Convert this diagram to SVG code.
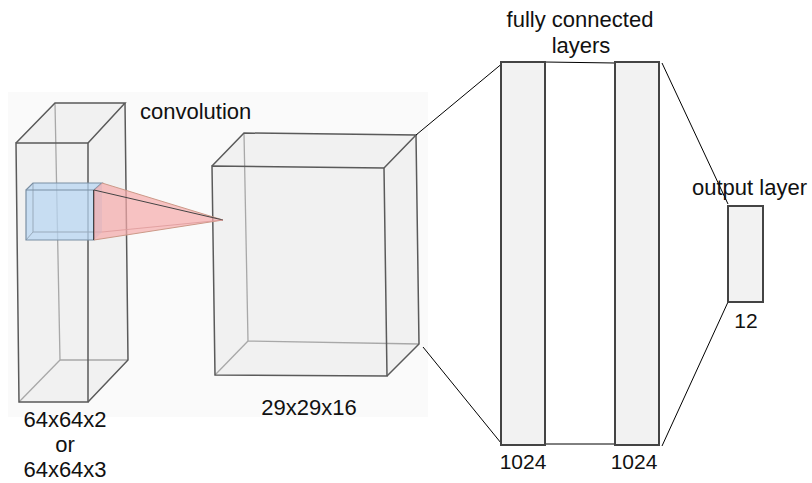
<svg xmlns="http://www.w3.org/2000/svg" width="812" height="483" viewBox="0 0 812 483">
<style>
text{font-family:"Liberation Sans",Arial,sans-serif;font-size:22px;fill:#111}
.mid{text-anchor:middle}
.face{fill:#ebebeb;fill-opacity:0.6;stroke:none}
.back{fill:none;stroke:#a8a8a8;stroke-width:1.3}
.edge{fill:none;stroke:#5a5a5a;stroke-width:1.5}
.layer{fill:#f2f2f2;stroke:#444;stroke-width:2}
.conn{stroke:#000;stroke-width:1;fill:none}
</style>
<rect x="8" y="92" width="420" height="325" fill="#fafafa"/>
<g id="input-volume">
<polygon class="face" points="16,143 55,103 125,103 128,360 88,402 19,402"/>
<polyline class="back" points="55,103 60,360 128,360"/>
<line class="back" x1="60" y1="360" x2="19" y2="402"/>
<polygon class="edge" points="16,143 88,143 88,402 19,402"/>
<polyline class="edge" points="16,143 55,103 125,103 88,143"/>
<polyline class="edge" points="125,103 128,360 88,402"/>
</g>
<g id="middle-volume">
<polygon class="face" points="212,166 244,133 416,135 419,344 387,376 215,375"/>
<polyline class="back" points="244,133 248,341 419,344"/>
<line class="back" x1="248" y1="341" x2="215" y2="375"/>
<polygon class="edge" points="212,166 384,168 387,376 215,375"/>
<polyline class="edge" points="212,166 244,133 416,135 384,168"/>
<polyline class="edge" points="416,135 419,344 387,376"/>
</g>
<g id="kernel">
<polygon points="26,190 33,183 102,183 102,232 94,240 26,240" fill="#b8d6f2" fill-opacity="0.75" stroke="none"/>
<polyline points="33,183 33,232 102,232" fill="none" stroke="#9ab" stroke-width="1"/>
<line x1="33" y1="232" x2="26" y2="240" stroke="#9ab" stroke-width="1"/>
<polygon points="26,190 94,190 94,240 26,240" fill="none" stroke="#7a8fa3" stroke-width="1.2"/>
<polyline points="26,190 33,183 102,183 94,190" fill="none" stroke="#7a8fa3" stroke-width="1.2"/>
<line x1="94" y1="190" x2="94" y2="240" stroke="#222" stroke-width="1.5"/>
<polygon points="94,190 102,183 223,220 94,240" fill="#f5a9a9" fill-opacity="0.7" stroke="none"/>
<polyline points="102,183 223,220 94,240" fill="none" stroke="#c98" stroke-width="1"/>
<line x1="94" y1="190" x2="223" y2="220" stroke="#444" stroke-width="1"/>
<line x1="102" y1="232" x2="223" y2="220" stroke="#d99" stroke-width="0.8"/>
</g>
<g id="connectors">
<line class="conn" x1="416" y1="135" x2="504" y2="62"/>
<line class="conn" x1="423" y1="347" x2="501" y2="443"/>
<line class="conn" x1="545" y1="62" x2="615" y2="63"/>
<line class="conn" x1="545" y1="444" x2="615" y2="444"/>
<line class="conn" x1="662" y1="63" x2="728" y2="204"/>
<line class="conn" x1="662" y1="446" x2="728" y2="302"/>
</g>
<g id="fc1"><rect class="layer" x="501" y="62" width="44" height="383"/></g>
<g id="fc2"><rect class="layer" x="615" y="62" width="44" height="383"/></g>
<g id="output"><rect class="layer" x="728" y="206" width="35" height="96"/></g>
<g id="labels">
<text x="140" y="119">convolution</text>
<text class="mid" x="580" y="27">fully connected</text>
<text class="mid" x="581" y="53">layers</text>
<text x="692" y="195">output layer</text>
<text class="mid" x="746" y="328" style="font-size:21px">12</text>
<text class="mid" x="65" y="427">64x64x2</text>
<text class="mid" x="65" y="452">or</text>
<text class="mid" x="65" y="477">64x64x3</text>
<text class="mid" x="309" y="415">29x29x16</text>
<text class="mid" x="523" y="469" style="font-size:21px">1024</text>
<text class="mid" x="634" y="469" style="font-size:21px">1024</text>
</g>
</svg>
